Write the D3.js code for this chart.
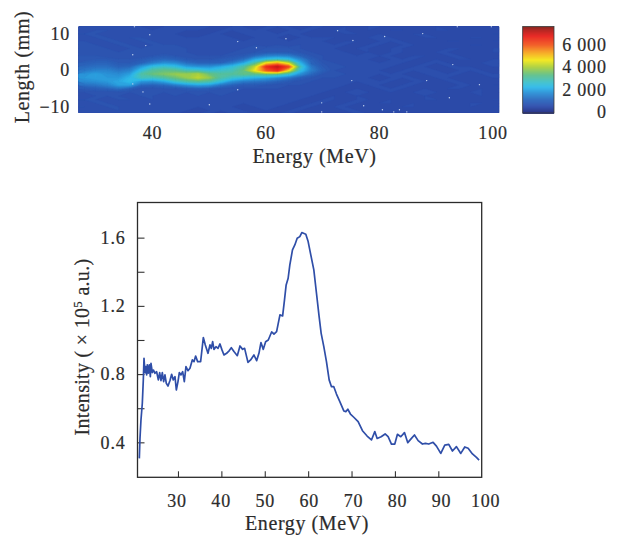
<!DOCTYPE html>
<meta charset="utf-8">
<style>
  body { margin: 0; background: #fff; }
  text { font-family: "Liberation Serif", serif; fill: #2b2b2b; stroke: #2b2b2b; stroke-width: 0.2px; }
</style>
<script src="https://d3js.org/d3.v7.min.js"></script>

<div id="my_dataviz"></div>

<script>

// spectrum curve
const energy = [21.09,21.24,21.47,21.78,22.01,22.17,22.40,22.55,22.78,22.93,23.16,23.39,23.63,23.78,24.09,24.32,24.70,25.08,25.47,25.78,26.08,26.39,26.70,27.00,27.31,27.70,28.16,28.54,28.92,29.31,29.62,30.00,30.31,30.69,31.08,31.46,31.84,32.30,32.76,33.30,33.69,34.07,34.53,35.22,35.84,36.30,36.91,37.37,37.68,37.99,38.29,38.76,39.22,39.68,40.14,40.60,41.21,41.83,42.29,42.90,43.67,44.29,44.90,45.36,46.13,46.74,47.51,48.13,48.66,49.12,49.66,50.20,50.81,51.58,52.12,52.73,53.50,54.12,54.55,54.93,55.39,55.78,56.39,56.93,57.47,58.08,58.54,59.46,60.00,60.61,61.31,61.92,62.53,63.00,63.61,64.22,64.84,65.38,65.91,66.53,67.30,68.22,68.68,69.14,69.75,70.52,71.52,72.52,73.59,74.59,75.36,75.90,76.82,77.74,78.43,79.20,79.97,80.58,81.35,82.20,82.96,83.81,84.50,85.35,86.34,87.03,87.80,88.80,89.57,90.57,91.49,92.41,93.26,94.18,95.18,96.10,96.87,97.87,98.79,99.40];
const intensity = [0.306,0.423,0.531,0.629,0.766,0.893,0.809,0.844,0.795,0.854,0.805,0.854,0.785,0.863,0.809,0.824,0.805,0.814,0.766,0.809,0.762,0.809,0.756,0.795,0.746,0.730,0.762,0.799,0.766,0.785,0.707,0.756,0.809,0.795,0.814,0.756,0.844,0.820,0.834,0.883,0.873,0.906,0.873,0.873,1.014,0.971,0.922,0.971,0.951,0.990,0.945,0.961,0.951,0.977,0.942,0.912,0.922,0.938,0.955,0.932,0.908,0.965,0.945,0.951,0.869,0.883,0.912,0.879,0.922,0.985,0.945,0.990,1.000,1.047,1.035,1.049,1.147,1.141,1.235,1.323,1.362,1.440,1.528,1.557,1.596,1.606,1.630,1.620,1.577,1.499,1.411,1.274,1.137,1.039,0.961,0.873,0.766,0.726,0.726,0.683,0.639,0.584,0.580,0.594,0.566,0.547,0.521,0.468,0.437,0.414,0.463,0.423,0.433,0.449,0.433,0.390,0.390,0.447,0.433,0.457,0.398,0.423,0.443,0.410,0.390,0.394,0.390,0.400,0.378,0.335,0.384,0.388,0.349,0.375,0.335,0.373,0.365,0.332,0.312,0.296];
const spectrumXTicks = [30, 40, 50, 60, 70, 80, 90, 100];
const spectrumYTicks = [0.4, 0.6, 0.8, 1.0, 1.2, 1.4, 1.6];
const spectrumYLabels = [0.4, 0.8, 1.2, 1.6];

// beam image, counts in hundreds. columns are heatEnergy, rows are heatLength
const heatEnergy = d3.range(28, 101, 2);
const heatLength = d3.range(12, -13, -1);
const heatHundreds = [
  [5,5,5,5,5,5,4,5,5,5,5,5,4,5,5,4,5,5,5,4,5,5,4,5,4,5,5,4,4,5,4,5,4,5,4,5,4],
  [5,6,6,5,6,5,5,5,6,5,5,4,5,5,5,5,5,4,5,5,5,4,5,5,4,5,4,5,5,4,4,5,5,4,4,5,4],
  [6,6,5,6,5,5,6,5,5,4,4,5,5,4,5,5,5,5,5,5,4,4,4,5,5,4,5,4,4,5,5,4,4,5,4,4,5],
  [5,6,6,5,6,6,5,6,5,5,5,5,5,5,4,5,5,5,4,5,5,5,5,4,4,5,5,5,4,4,5,5,4,4,5,5,4],
  [6,5,6,6,5,6,6,5,5,6,5,5,5,5,5,5,6,5,5,5,5,5,4,5,5,4,5,5,5,4,4,4,5,5,4,4,5],
  [6,6,5,6,6,5,6,6,6,5,6,5,5,6,5,6,5,6,5,6,5,5,5,5,4,5,5,4,5,5,4,5,4,4,5,5,4],
  [6,6,6,5,6,6,6,6,6,6,5,5,6,5,6,6,7,7,7,6,5,5,5,4,5,5,4,5,5,4,5,4,5,5,4,4,5],
  [6,6,6,6,6,6,6,6,6,6,5,5,5,6,6,7,8,8,8,7,6,5,5,5,4,5,4,5,5,4,4,5,5,4,4,4,5],
  [7,7,6,6,6,6,7,8,7,6,6,6,6,7,8,11,14,15,14,10,7,6,5,5,5,5,5,5,4,5,5,4,5,5,4,5,4],
  [7,8,8,7,7,8,10,11,10,8,7,7,8,9,12,20,24,26,24,16,9,6,5,5,5,5,4,5,5,5,4,5,4,5,5,4,5],
  [9,10,10,8,8,10,14,17,16,12,10,10,10,14,20,30,46,52,42,22,10,7,6,5,5,5,5,5,5,4,5,5,5,4,4,5,5],
  [11,12,12,10,11,18,24,26,24,19,17,17,20,24,30,42,66,72,62,28,13,8,6,6,5,5,5,5,4,5,5,4,5,5,5,4,5],
  [13,15,15,13,15,24,31,33,32,28,27,24,26,28,34,46,60,66,46,24,14,9,6,5,5,5,5,4,5,5,5,5,4,5,5,5,4],
  [17,19,17,16,19,30,34,36,38,38,40,34,31,31,33,32,33,31,26,17,11,7,6,6,5,5,5,5,5,4,5,5,5,5,4,5,5],
  [18,19,18,18,22,28,27,30,34,38,42,38,30,26,23,21,19,16,13,9,7,6,6,5,5,5,4,5,5,5,4,5,5,4,5,4,5],
  [16,17,18,20,23,18,17,20,26,30,32,30,24,17,14,13,12,10,8,6,6,5,5,5,5,5,5,5,4,5,5,4,5,5,4,5,4],
  [12,13,15,19,19,11,10,11,14,17,19,18,13,10,8,8,7,6,6,6,5,5,5,5,4,5,5,4,5,5,4,5,4,5,5,4,5],
  [8,9,10,12,9,6,6,7,7,8,9,8,7,6,6,6,6,6,5,5,5,5,5,4,5,4,5,5,5,4,5,4,5,5,4,5,4],
  [6,6,6,6,6,6,6,6,6,6,6,6,6,6,5,5,5,5,5,5,5,5,4,5,5,5,4,5,4,5,5,5,4,4,5,5,4],
  [5,6,6,6,5,6,6,5,6,5,6,5,6,5,5,5,5,5,5,5,5,4,5,4,5,4,5,4,5,4,5,4,5,4,4,5,4],
  [6,6,5,6,6,5,6,5,5,6,5,5,5,5,5,6,5,5,5,5,4,5,5,4,5,5,4,5,4,4,5,5,4,5,4,4,5],
  [5,6,6,5,5,6,5,6,5,5,5,6,5,5,5,5,5,5,5,4,5,5,4,5,5,4,5,5,4,5,4,4,5,4,5,5,4],
  [6,5,6,6,5,5,6,5,6,5,5,5,5,5,4,5,5,5,4,5,5,4,5,5,4,5,4,4,5,5,4,5,4,4,5,4,5],
  [5,5,5,6,5,6,5,5,5,5,4,5,5,5,5,4,5,4,5,5,4,5,4,5,5,4,5,5,4,4,5,4,5,5,4,5,4],
  [5,5,6,5,5,5,5,5,5,4,5,5,4,5,5,5,4,5,5,4,5,4,5,4,5,5,4,4,5,5,4,5,4,4,5,4,4]
];
// bright hot pixels scattered on the image
const speckEnergy = [39.5,38.8,36.5,38.3,39.5,36.8,50,55,63.5,55,36.5,58.3,72.6,75.3,80.9,87.6,93.7,99.7,92.9,75.1,88.3,97.6,92.3,69.8,77.2,80.5,83.5,84.8,82.5,69.8];
const speckLength = [9.8,6.8,4.3,-5.9,-9.2,12,-9.4,-5.3,8.7,7.9,-3.7,6.2,10.9,8.2,9.3,10.1,12,12,1.6,-2.8,-2.8,-3.9,-7.5,-8.9,-9.7,-10.8,-10.8,-11.4,-11.4,-11.4];

const heatXTicks = [40, 60, 80, 100];
const heatYTicks = [10, 0, -10];
const barTicks = [0, 2000, 4000, 6000];
const barTickLabels = ["0", "2 000", "4 000", "6 000"];

// colour map
const jetValues = [-100, 500, 1050, 1700, 2200, 2600, 3300, 4000, 4650, 5370, 6000, 6800, 7350, 7670];
const jetColors = ["#1f2a80","#2c4dac","#2b66bc","#2a90d6","#2eb8ea","#3cc0d0","#5fc08a","#a9cf3e","#f4e81a","#f5a020","#f25a20","#e8201c","#b01c18","#7a1c14"];

const color = d3.scaleLinear().domain(jetValues).range(jetColors).clamp(true);

var svg = d3.select("#my_dataviz")
  .append("svg")
    .attr("width", 618)
    .attr("height", 537)
    .style("display", "block");

// ---------- top panel ----------
const heat = {left: 78, right: 501, top: 26.3, bottom: 112.7};
const xHeat = d3.scaleLinear().domain([26.85, 101.4]).range([heat.left, heat.right]);
const yHeat = d3.scaleLinear().domain([12.1, -11.6]).range([heat.top, heat.bottom]);

svg.append("clipPath").attr("id", "heatclip")
  .append("rect")
    .attr("x", heat.left).attr("y", heat.top)
    .attr("width", heat.right - heat.left).attr("height", heat.bottom - heat.top);

var heatG = svg.append("g").attr("clip-path", "url(#heatclip)");

// filled iso-bands of the grid; grid coordinates go through the axis scales
const nx = heatEnergy.length, ny = heatLength.length;
const contours = d3.contours()
  .size([nx, ny])
  .thresholds(d3.range(0, 78, 1))(heatHundreds.flat());

const gridPath = d3.geoPath(d3.geoTransform({
  point: function(gx, gy) {
    this.stream.point(
      xHeat(heatEnergy[0] + (gx - 0.5) * (heatEnergy[1] - heatEnergy[0])),
      yHeat(heatLength[0] + (gy - 0.5) * (heatLength[1] - heatLength[0])));
  }
}));

heatG.selectAll("path")
  .data(contours)
  .enter()
  .append("path")
    .attr("d", gridPath)
    .style("fill", function(d){ return color((d.value + 0.5) * 100) })
    .style("stroke", function(d){ return color((d.value + 0.5) * 100) })
    .style("stroke-width", 0.4);

heatG.selectAll("myspecks")
  .data(speckEnergy)
  .enter()
  .append("circle")
    .attr("cx", function(d){ return xHeat(d) })
    .attr("cy", function(d, i){ return yHeat(speckLength[i]) })
    .attr("r", 0.7)
    .style("fill", "#c8d8f2");

svg.selectAll("heatx")
  .data(heatXTicks)
  .enter()
  .append("text")
    .attr("x", function(d){ return xHeat(d) })
    .attr("y", 139)
    .attr("text-anchor", "middle")
    .style("font-size", "18px").style("letter-spacing", "0.8px")
    .text(function(d){ return d });

svg.selectAll("heaty")
  .data(heatYTicks)
  .enter()
  .append("text")
    .attr("x", 70)
    .attr("y", function(d){ return yHeat(d) + 6 })
    .attr("text-anchor", "end")
    .style("font-size", "18px").style("letter-spacing", "0.8px")
    .text(function(d){ return d < 0 ? "\u2212" + (-d) : d });

svg.append("text")
  .attr("x", 314.5).attr("y", 163)
  .attr("text-anchor", "middle")
  .style("font-size", "20px").style("letter-spacing", "0.6px")
  .text("Energy (MeV)");

svg.append("text")
  .attr("transform", "translate(29,67) rotate(-90)")
  .attr("text-anchor", "middle")
  .style("font-size", "20px").style("letter-spacing", "0.6px")
  .text("Length (mm)");

// colour bar
const bar = {left: 522.7, right: 554, top: 26.5, bottom: 113};
const yBar = d3.scaleLinear().domain([-100, 7670]).range([bar.bottom, bar.top]);
const barStops = d3.range(0, 87);

svg.selectAll("barcells")
  .data(barStops)
  .enter()
  .append("rect")
    .attr("x", bar.left)
    .attr("y", function(d){ return bar.top + d })
    .attr("width", bar.right - bar.left)
    .attr("height", 1.4)
    .style("fill", function(d){ return color(yBar.invert(bar.top + d + 0.5)) });

svg.append("rect")
  .attr("x", bar.left).attr("y", bar.top)
  .attr("width", bar.right - bar.left).attr("height", bar.bottom - bar.top)
  .style("fill", "none").style("stroke", "#3a3a3a").style("stroke-width", 0.8);

svg.selectAll("barlabels")
  .data(barTicks)
  .enter()
  .append("text")
    .attr("x", 606.7)
    .attr("y", function(d){ return yBar(d) + 6 })
    .attr("text-anchor", "end")
    .style("font-size", "18px").style("letter-spacing", "0.8px")
    .text(function(d, i){ return barTickLabels[i] });

// ---------- bottom panel ----------
const plot = {left: 137.5, right: 481.7, top: 202.5, bottom: 477.3};
const x = d3.scaleLinear().domain([20.67, 100]).range([plot.left, plot.right]);
const y = d3.scaleLinear().domain([0.195, 1.806]).range([plot.bottom, plot.top]);

function styleAxis(g) {
  g.select(".domain").remove();
  g.selectAll("line").style("stroke", "#333").style("stroke-width", 1.1);
  g.selectAll("text")
    .style("font-family", '"Liberation Serif", serif')
    .style("font-size", "18px")
    .style("letter-spacing", "0.8px")
    .style("fill", "#2b2b2b");
}

svg.append("g")
  .attr("transform", "translate(0," + plot.bottom + ")")
  .call(d3.axisBottom(x).tickValues(spectrumXTicks).tickSizeInner(-6).tickSizeOuter(0).tickPadding(17))
  .call(styleAxis)
  .call(function(g){
    // the printed labels drift a little to the right of their ticks
    g.selectAll("text").attr("dx", function(d){ return (d - 50) * 0.07 });
    g.selectAll(".tick").filter(function(d){ return d === 100 }).select("line").remove();
  });

svg.append("g")
  .attr("transform", "translate(" + plot.left + ",0)")
  .call(d3.axisLeft(y).tickValues(spectrumYTicks).tickSizeInner(-7).tickSizeOuter(0).tickPadding(12)
    .tickFormat(function(d){ return spectrumYLabels.indexOf(d) >= 0 ? d3.format(".1f")(d) : "" }))
  .call(styleAxis);

svg.append("rect")
  .attr("x", plot.left).attr("y", plot.top)
  .attr("width", plot.right - plot.left).attr("height", plot.bottom - plot.top)
  .style("fill", "none").style("stroke", "#2b2b2b").style("stroke-width", 1.3);

var line = d3.line()
  .x(function(d){ return x(d) })
  .y(function(d, i){ return y(intensity[i]) });

svg.append("path")
  .datum(energy)
  .attr("d", line)
  .style("fill", "none")
  .style("stroke", "#2f4ea8")
  .style("stroke-width", 1.7)
  .style("stroke-linejoin", "round");

svg.append("text")
  .attr("x", 307).attr("y", 530)
  .attr("text-anchor", "middle")
  .style("font-size", "20px").style("letter-spacing", "0.6px")
  .text("Energy (MeV)");

var yLabel = svg.append("text")
  .attr("transform", "translate(89,347) rotate(-90)")
  .attr("text-anchor", "middle")
  .style("font-size", "20px").style("letter-spacing", "0.3px");
yLabel.append("tspan").text("Intensity ( \u00d7 10");
yLabel.append("tspan").attr("dy", -7).style("font-size", "13px").text("5");
yLabel.append("tspan").attr("dy", 7).text(" a.u.)");

</script>
